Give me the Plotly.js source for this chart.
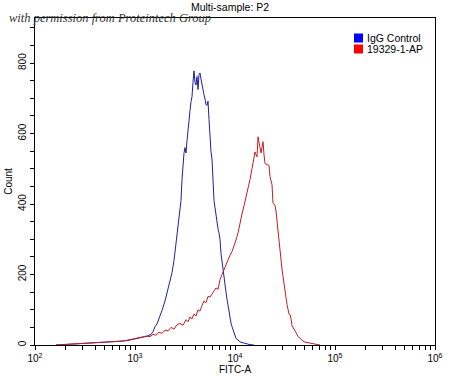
<!DOCTYPE html>
<html>
<head>
<meta charset="utf-8">
<script src="https://cdn.plot.ly/plotly-3.0.1.min.js"></script>
<style>html,body{margin:0;padding:0;background:#fff;}#chart{width:450px;height:379px;}</style>
</head>
<body>
<div id="chart"></div>
<script>
// Histogram bins: log10(FITC-A) bin positions and event counts
const iggLogFitc = [2.21,2.27,2.33,2.39,2.45,2.51,2.57,2.63,2.69,2.75,2.81,2.87,2.93,2.99,
  3.05,3.09,3.13,3.16,3.18,3.20,3.22,3.25,3.27,3.30,3.33,3.35,3.37,3.39,3.41,
  3.42,3.43,3.44,3.45,3.46,3.47,3.48,3.49,3.50,3.51,3.52,3.53,3.54,3.55,3.56,3.57,3.58,3.59,3.60,3.61,
  3.62,3.63,3.64,3.65,3.66,3.67,3.68,3.69,3.70,3.71,3.72,3.73,3.74,3.75,3.76,3.77,3.78,3.79,3.80,3.81,
  3.82,3.83,3.84,3.85,3.86,3.87,3.88,3.89,3.90,3.91,3.92,3.93,3.94,3.95,3.96,3.97,3.98,3.99,4.00,4.01,
  4.03,4.05,4.07,4.09,4.12,4.15,4.19];
const iggCount = [0,1,2,2,3,3,4,5,6,7,9,11,13,16,
  20,23,26,30,38,52,60,82,98,125,160,185,205,240,290,
  318,340,360,385,410,470,530,545,560,545,580,615,640,665,690,705,745,778,745,738,
  762,725,768,772,755,735,720,710,698,682,680,692,640,590,548,528,440,410,390,365,
  350,330,318,300,260,235,208,185,165,150,130,110,95,80,62,52,42,32,24,19,
  14,9,7,5,3,1,0];

const abLogFitc = [2.21,2.27,2.33,2.39,2.45,2.51,2.57,2.63,2.69,2.75,2.81,2.87,2.93,2.99,
  3.03,3.07,3.11,3.15,
  3.18,3.21,3.24,3.27,3.30,3.33,3.36,3.39,3.42,3.45,3.48,3.51,
  3.53,3.55,3.57,3.59,3.61,3.63,3.65,3.67,3.69,3.71,3.73,3.75,3.77,3.79,3.81,3.83,3.85,3.87,3.89,3.91,
  3.93,3.95,3.97,3.99,4.01,4.03,4.05,4.07,4.09,4.11,4.13,4.15,4.17,4.19,
  4.20,4.21,4.22,4.23,4.24,4.25,4.26,4.27,4.28,4.29,4.30,
  4.32,4.34,
  4.35,4.36,4.37,4.38,4.39,4.40,4.41,4.42,4.43,4.44,4.45,4.46,4.47,4.48,4.49,4.50,4.51,4.52,4.53,4.54,
  4.55,4.56,4.57,4.58,4.59,4.60,4.61,4.62,4.63,
  4.65,4.67,4.69,4.72,4.75,4.78,4.81,4.85];
const abCount = [0,1,1,2,3,3,4,5,6,8,9,11,14,18,
  20,22,25,24,
  30,28,36,33,42,40,50,45,58,61,56,72,
  66,80,74,88,82,100,96,112,125,120,138,136,145,150,162,158,185,200,215,228,
  240,255,265,280,298,318,350,372,395,420,440,470,500,534,
  548,540,534,591,575,560,545,560,577,540,515,
  512,510,
  478,468,455,402,400,397,380,350,315,290,262,238,215,195,170,150,135,115,95,88,
  86,75,55,50,48,44,35,30,24,
  18,12,9,7,5,3,1,0];

const seriesNames = ['IgG Control', '19329-1-AP'];
const lineColors = ['#1f1f9e', '#c41e24'];
const legendColors = ['#0000ff', '#ff0000'];
const decadeExps = [2, 3, 4, 5, 6];
const chartTitle = 'Multi-sample: P2';
const xTitle = 'FITC-A';
const yTitle = 'Count';
const watermark = 'with permission from Proteintech Group';

const toLinear = a => a.map(v => Math.pow(10, v));

const traces = [
  {x: toLinear(iggLogFitc), y: iggCount, name: seriesNames[0], mode: 'lines',
   line: {color: lineColors[0], width: 1}, showlegend: false},
  {x: toLinear(abLogFitc), y: abCount, name: seriesNames[1], mode: 'lines',
   line: {color: lineColors[1], width: 1}, showlegend: false}
];

const majorVals = decadeExps.map(e => Math.pow(10, e));
const majorText = decadeExps.map(e => '10<sup>' + e + '</sup>');
const minorVals = [];
for (let e = 2; e < 6; e++) for (let m = 2; m <= 9; m++) minorVals.push(m * Math.pow(10, e));

const font = 'Liberation Sans, Arial, sans-serif';

// legend boxes positioned in paper coords
const plotL = 35, plotW = 400, plotT = 18, plotH = 327;
const px2x = p => (p - plotL) / plotW;
const py2y = p => (plotT + plotH - p) / plotH;

const shapes = [];
const annotations = [];
seriesNames.forEach((n, i) => {
  const cy = 38 + i * 11;
  shapes.push({type: 'rect', xref: 'paper', yref: 'paper',
    x0: px2x(354), x1: px2x(363), y0: py2y(cy + 4.5), y1: py2y(cy - 4.5),
    fillcolor: legendColors[i], line: {width: 0}});
  annotations.push({xref: 'paper', yref: 'paper', x: px2x(365), y: py2y(cy),
    xanchor: 'left', yanchor: 'middle', text: n, showarrow: false,
    font: {family: font, size: 10.5, color: '#000'}});
});
annotations.push({xref: 'paper', yref: 'paper', x: px2x(7), y: py2y(18),
  xanchor: 'left', yanchor: 'middle', text: '<i>' + watermark + '</i>', showarrow: false,
  font: {family: 'Liberation Serif, DejaVu Serif, serif', size: 12.5, color: '#333'}});

const layout = {
  width: 450, height: 379,
  margin: {l: plotL, r: 450 - plotL - plotW, t: plotT, b: 379 - plotT - plotH, pad: 0},
  paper_bgcolor: '#fff', plot_bgcolor: '#fff',
  font: {family: font, size: 10, color: '#000'},
  title: {text: chartTitle, xref: 'paper', x: px2x(230), xanchor: 'center',
    yref: 'container', y: 1 - 7 / 379, yanchor: 'middle', font: {family: font, size: 10.5, color: '#000'}},
  xaxis: {type: 'log', range: [2, 6], tickmode: 'array', tickvals: majorVals, ticktext: majorText,
    ticks: 'outside', ticklen: 4, tickcolor: '#000', showgrid: false, zeroline: false,
    showline: true, linecolor: '#000', linewidth: 1, mirror: true,
    tickfont: {family: font, size: 10, color: '#000'},
    minor: {tickmode: 'array', tickvals: minorVals, ticks: 'outside', ticklen: 4, tickcolor: '#000', showgrid: false},
    title: {text: xTitle, standoff: 2, font: {family: font, size: 10, color: '#000'}}},
  yaxis: {range: [0, 928], tickmode: 'linear', tick0: 0, dtick: 200, tickangle: -90,
    ticks: 'outside', ticklen: 4, tickcolor: '#000', showgrid: false, zeroline: false,
    showline: true, linecolor: '#000', linewidth: 1, mirror: true,
    tickfont: {family: font, size: 10, color: '#000'},
    minor: {dtick: 50, tick0: 0, ticks: 'outside', ticklen: 4, tickcolor: '#000', showgrid: false},
    title: {text: yTitle, standoff: 2, font: {family: font, size: 10, color: '#000'}}},
  shapes: shapes,
  annotations: annotations,
  showlegend: false
};

Plotly.newPlot('chart', traces, layout, {staticPlot: true, displayModeBar: false});
</script>
</body>
</html>
